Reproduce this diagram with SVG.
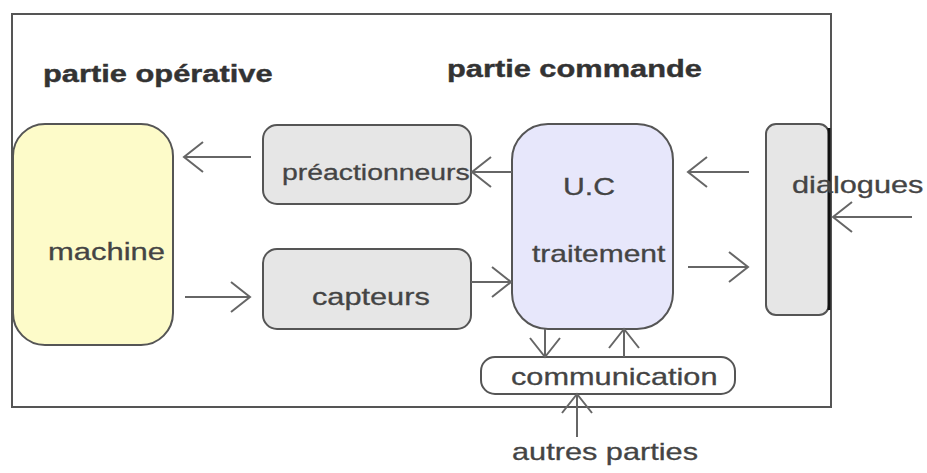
<svg xmlns="http://www.w3.org/2000/svg" width="927" height="473" viewBox="0 0 927 473">
<defs>
<marker id="ah" markerUnits="userSpaceOnUse" viewBox="-22 -18 24 36" refX="0" refY="0" markerWidth="24" markerHeight="36" orient="auto">
<path d="M-19,-15 L0,0 L-19,15" fill="none" stroke="#666" stroke-width="2"/>
</marker>
</defs>
<style>
.lbl{font-family:"Liberation Sans",Arial,sans-serif;fill:#444;font-size:24px;stroke:#444;stroke-width:0.3;}
.hd{font-family:"Liberation Sans",Arial,sans-serif;font-weight:bold;fill:#333;font-size:24px;stroke:#333;stroke-width:0.4;}
.box{stroke:#555;stroke-width:2;}
.cn{stroke:#666;stroke-width:2;fill:none;marker-end:url(#ah);}
</style>
<rect width="927" height="473" fill="#fff"/>
<g id="frame">
<rect x="12" y="14" width="819" height="393" fill="none" stroke="#555" stroke-width="2"/>
<text class="hd" transform="translate(43,82) scale(1.285,1)">partie opérative</text>
<text class="hd" transform="translate(447,77) scale(1.283,1)">partie commande</text>
</g>
<g id="machine">
<rect class="box" x="13" y="124" width="160" height="221" rx="32" fill="#fdfbc9" stroke="#8a8a60"/>
<text class="lbl" transform="translate(48,260) scale(1.29,1)">machine</text>
</g>
<g id="preactionneurs">
<rect class="box" x="263" y="125" width="208" height="79" rx="14" fill="#e6e6e6"/>
<text class="lbl" style="font-size:22px" transform="translate(282,180) scale(1.29,1)">préactionneurs</text>
</g>
<g id="capteurs">
<rect class="box" x="263" y="249" width="208" height="80" rx="14" fill="#e6e6e6"/>
<text class="lbl" transform="translate(312,305) scale(1.28,1)">capteurs</text>
</g>
<g id="uc">
<rect class="box" x="512" y="124" width="161" height="205" rx="36" fill="#e7e7fb"/>
<text class="lbl" transform="translate(563,195) scale(1.26,1)">U.C</text>
<text class="lbl" transform="translate(532,262) scale(1.25,1)">traitement</text>
</g>
<g id="dialogues">
<rect class="box" x="766" y="124" width="63" height="191" rx="10" fill="#e6e6e6"/>
<line x1="829" y1="128" x2="829" y2="310" stroke="#111" stroke-width="3"/>
<text class="lbl" transform="translate(792,193) scale(1.28,1)">dialogues</text>
</g>
<g id="communication">
<rect class="box" x="481" y="357" width="254" height="37" rx="14" fill="#fff"/>
<text class="lbl" transform="translate(511,385) scale(1.28,1)">communication</text>
</g>
<g id="autres">
<text class="lbl" transform="translate(512,460) scale(1.28,1)">autres parties</text>
</g>
<g id="connectors">
<line class="cn" x1="251" y1="157" x2="184" y2="157"/>
<line class="cn" x1="185" y1="297" x2="250" y2="297"/>
<line class="cn" x1="512" y1="172" x2="472" y2="172"/>
<line class="cn" x1="471" y1="282" x2="511" y2="282"/>
<line class="cn" x1="749" y1="172" x2="688" y2="172"/>
<line class="cn" x1="688" y1="267" x2="748" y2="267"/>
<line class="cn" x1="912" y1="217" x2="833" y2="217"/>
<line class="cn" x1="545" y1="329" x2="545" y2="357"/>
<line class="cn" x1="624" y1="357" x2="624" y2="329"/>
<line class="cn" x1="577" y1="437" x2="577" y2="394"/>
</g>
</svg>
